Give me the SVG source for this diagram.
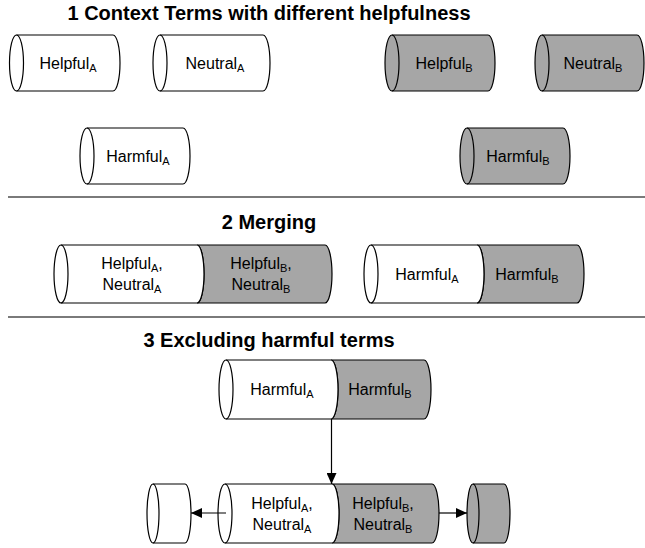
<svg xmlns="http://www.w3.org/2000/svg" width="645" height="548" viewBox="0 0 645 548">
<style>
  .w { fill: #ffffff; stroke: #000; stroke-width: 1.2; }
  .g { fill: #a6a6a6; stroke: #000; stroke-width: 1.2; }
  .in { fill: none; stroke: #000; stroke-width: 1.2; }
  .t { font-family: "Liberation Sans", Arial, sans-serif; font-size: 16px; fill: #000; text-anchor: middle; }
  .s { font-size: 11px; }
  .h { font-family: "Liberation Sans", Arial, sans-serif; font-size: 20px; font-weight: bold; fill: #000; text-anchor: middle; }
  .sep { fill: #7a7a7a; }
  .c { stroke: #000; stroke-width: 1.2; fill: none; }
</style>
<defs>
  <marker id="arr" markerWidth="11" markerHeight="10" refX="11" refY="5" orient="auto" markerUnits="userSpaceOnUse">
    <path d="M0,0 L11,5 L0,10 Z" fill="#000"/>
  </marker>
</defs>

<g id="titles">
  <text class="h" x="269" y="20">1 Context Terms with different helpfulness</text>
  <text class="h" x="269" y="229">2 Merging</text>
  <text class="h" x="269" y="347">3 Excluding harmful terms</text>
</g>
<g id="separators">
  <rect class="sep" x="8" y="196" width="637" height="2"/>
  <rect class="sep" x="8" y="316" width="637" height="2"/>
</g>

<g id="helpfulA">
  <path class="w" d="M16.5,35 H113 A7,28 0 0 1 113,91 H16.5 A7,28 0 0 1 16.5,35 Z"/>
  <path class="in" d="M16.5,35 A7,28 0 0 1 16.5,91"/>
  <text class="t" x="68" y="68.5">Helpful<tspan class="s" dy="3">A</tspan></text>
</g>
<g id="neutralA">
  <path class="w" d="M160,35 H263 A7,28 0 0 1 263,91 H160 A7,28 0 0 1 160,35 Z"/>
  <path class="in" d="M160,35 A7,28 0 0 1 160,91"/>
  <text class="t" x="215" y="68.5">Neutral<tspan class="s" dy="3">A</tspan></text>
</g>
<g id="helpfulB">
  <path class="g" d="M392,35 H488 A7,28 0 0 1 488,91 H392 A7,28 0 0 1 392,35 Z"/>
  <path class="in" d="M392,35 A7,28 0 0 1 392,91"/>
  <text class="t" x="444" y="68.5">Helpful<tspan class="s" dy="3">B</tspan></text>
</g>
<g id="neutralB">
  <path class="g" d="M542,35 H637 A7,28 0 0 1 637,91 H542 A7,28 0 0 1 542,35 Z"/>
  <path class="in" d="M542,35 A7,28 0 0 1 542,91"/>
  <text class="t" x="593" y="68.5">Neutral<tspan class="s" dy="3">B</tspan></text>
</g>
<g id="harmfulA">
  <path class="w" d="M87,128 H183 A7,28 0 0 1 183,184 H87 A7,28 0 0 1 87,128 Z"/>
  <path class="in" d="M87,128 A7,28 0 0 1 87,184"/>
  <text class="t" x="138" y="161.5">Harmful<tspan class="s" dy="3">A</tspan></text>
</g>
<g id="harmfulB">
  <path class="g" d="M467,128 H563 A7,28 0 0 1 563,184 H467 A7,28 0 0 1 467,128 Z"/>
  <path class="in" d="M467,128 A7,28 0 0 1 467,184"/>
  <text class="t" x="518" y="161.5">Harmful<tspan class="s" dy="3">B</tspan></text>
</g>

<g id="merged-helpful-neutral">
  <path class="g" d="M197,245 H325 A7,29 0 0 1 325,303 H197 A7,29 0 0 0 197,245 Z"/>
  <path class="w" d="M61,245 H197 A7,29 0 0 1 197,303 H61 A7,29 0 0 1 61,245 Z"/>
  <path class="in" d="M61,245 A7,29 0 0 1 61,303"/>
  <text class="t" x="132" y="269">Helpful<tspan class="s" dy="3">A</tspan><tspan dy="-3">,</tspan></text>
  <text class="t" x="132" y="290">Neutral<tspan class="s" dy="3">A</tspan></text>
  <text class="t" x="261" y="269">Helpful<tspan class="s" dy="3">B</tspan><tspan dy="-3">,</tspan></text>
  <text class="t" x="261" y="290">Neutral<tspan class="s" dy="3">B</tspan></text>
</g>
<g id="merged-harmful">
  <path class="g" d="M477,245 H577 A7,29 0 0 1 577,303 H477 A7,29 0 0 0 477,245 Z"/>
  <path class="w" d="M371,245 H477 A7,29 0 0 1 477,303 H371 A7,29 0 0 1 371,245 Z"/>
  <path class="in" d="M371,245 A7,29 0 0 1 371,303"/>
  <text class="t" x="427" y="279.5">Harmful<tspan class="s" dy="3">A</tspan></text>
  <text class="t" x="527" y="279.5">Harmful<tspan class="s" dy="3">B</tspan></text>
</g>

<g id="excluded-harmful">
  <path class="g" d="M331,360 H424 A7,29.5 0 0 1 424,419 H331 A7,29.5 0 0 0 331,360 Z"/>
  <path class="w" d="M226,360 H331 A7,29.5 0 0 1 331,419 H226 A7,29.5 0 0 1 226,360 Z"/>
  <path class="in" d="M226,360 A7,29.5 0 0 1 226,419"/>
  <text class="t" x="282" y="395">Harmful<tspan class="s" dy="3">A</tspan></text>
  <text class="t" x="380" y="395">Harmful<tspan class="s" dy="3">B</tspan></text>
</g>

<g id="result">
  <path class="g" d="M332,484 H432 A7,29.5 0 0 1 432,543 H332 A7,29.5 0 0 0 332,484 Z"/>
  <path class="w" d="M225,484 H332 A7,29.5 0 0 1 332,543 H225 A7,29.5 0 0 1 225,484 Z"/>
  <path class="in" d="M225,484 A7,29.5 0 0 1 225,543"/>
  <text class="t" x="282" y="509">Helpful<tspan class="s" dy="3">A</tspan><tspan dy="-3">,</tspan></text>
  <text class="t" x="282" y="530">Neutral<tspan class="s" dy="3">A</tspan></text>
  <text class="t" x="383" y="509">Helpful<tspan class="s" dy="3">B</tspan><tspan dy="-3">,</tspan></text>
  <text class="t" x="383" y="530">Neutral<tspan class="s" dy="3">B</tspan></text>
</g>
<g id="small-white">
  <path class="w" d="M153,484 H185 A6,29.5 0 0 1 185,543 H153 A6,29.5 0 0 1 153,484 Z"/>
  <path class="in" d="M153,484 A6,29.5 0 0 1 153,543"/>
</g>
<g id="small-gray">
  <path class="g" d="M473,484 H504 A6,29.5 0 0 1 504,543 H473 A6,29.5 0 0 1 473,484 Z"/>
  <path class="in" d="M473,484 A6,29.5 0 0 1 473,543"/>
</g>

<g id="connectors">
  <line class="c" x1="331.5" y1="419" x2="331.5" y2="484" marker-end="url(#arr)"/>
  <line class="c" x1="226" y1="513" x2="191" y2="513" marker-end="url(#arr)"/>
  <line class="c" x1="439" y1="513" x2="467" y2="513" marker-end="url(#arr)"/>
</g>
</svg>
